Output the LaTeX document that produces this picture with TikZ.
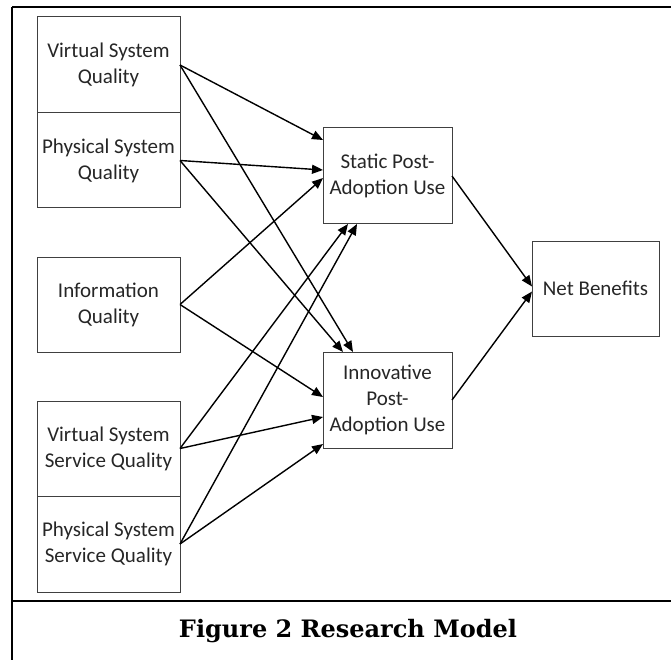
\documentclass[tikz,border=0pt]{standalone}
\usepackage{fontspec}
\setmainfont{Carlito}
\newfontfamily\captionfont{DejaVu Serif}
\usetikzlibrary{arrows.meta}

\tikzset{
  construct/.style={draw=black!75, line width=1pt, text=black!85, align=center,
    anchor=north west, inner sep=0pt, outer sep=0pt,
    font=\fontsize{21}{26}\selectfont},
  link/.style={line width=1.4pt, -{Triangle[length=11pt,width=9pt]}},
  frame/.style={line width=1.3pt}
}

\begin{document}
\begin{tikzpicture}[x=1pt,y=-1pt]
		\useasboundingbox (0,0) rectangle (671,660);
		%%%%% FRAME %%%%%
		\draw[frame] (12,7) -- (671,7);
		\draw[line width=2pt] (12,7) -- (12,660);
		\draw[frame] (12,601) -- (671,601);
		
		%%%%% CONSTRUCTS %%%%%
		\node[construct, minimum width=143pt, minimum height=96pt] (vsq) at (37,17) {Virtual System\\Quality};
		\node[construct, minimum width=143pt, minimum height=95pt] (psq) at (37,113) {Physical System\\Quality};
		\node[construct, minimum width=143pt, minimum height=95pt] (iq) at (37,257) {Information\\Quality};
		\node[construct, minimum width=143pt, minimum height=95pt] (vssq) at (37,401) {Virtual System\\Service Quality};
		\node[construct, minimum width=143pt, minimum height=96pt] (pssq) at (37,496) {Physical System\\Service Quality};
		
		\node[construct, minimum width=129pt, minimum height=96pt] (spu) at (323,128) {Static Post-\\Adoption Use};
		\node[construct, minimum width=129pt, minimum height=96pt] (ipu) at (323,352) {Innovative\\Post-\\Adoption Use};
		\node[construct, minimum width=127pt, minimum height=95pt] (nb) at (532,241) {Net Benefits};
		
		%%%%% PATHS %%%%%
		\draw[link] (vsq.east) -- ([yshift=36pt]spu.west);
		\draw[link] (vsq.east) -- ([xshift=-34.5pt]ipu.north);
		\draw[link] (psq.east) -- ([yshift=6pt]spu.west);
		\draw[link] (psq.east) -- ([xshift=-44.5pt]ipu.north);
		\draw[link] (iq.east) -- ([yshift=-2pt]spu.west);
		\draw[link] (iq.east) -- ([yshift=3pt]ipu.west);
		\draw[link] (vssq.east) -- ([xshift=-39.5pt]spu.south);
		\draw[link] (vssq.east) -- ([yshift=-17pt]ipu.west);
		\draw[link] (pssq.east) -- ([xshift=-30.5pt]spu.south);
		\draw[link] (pssq.east) -- ([yshift=-44pt]ipu.west);
		
		\draw[link] (spu.east) -- ([yshift=2pt]nb.west);
		\draw[link] (ipu.east) -- ([yshift=-3pt]nb.west);
		
		%%%%% CAPTION %%%%%
		\node[font=\captionfont\bfseries\fontsize{24}{29}\selectfont] (cap) at (348,631) {Figure 2 Research Model};
\end{tikzpicture}
\end{document}
